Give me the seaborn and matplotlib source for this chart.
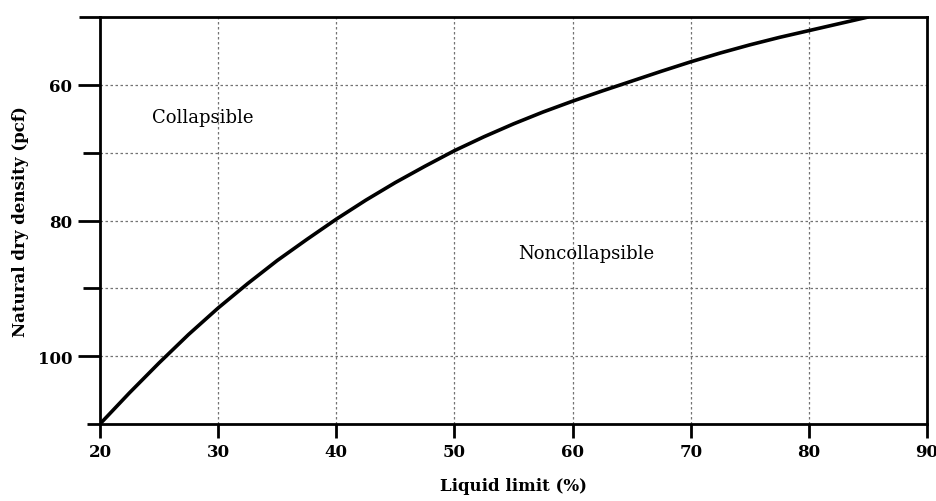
import matplotlib
matplotlib.use("Agg")
import matplotlib.pyplot as plt
import seaborn as sns
import pandas as pd
from matplotlib.ticker import FixedLocator

# Data
liquid_limit = [20, 22.5, 25, 27.5, 30, 32.5, 35, 37.5, 40, 42.5, 45, 47.5, 50,
                52.5, 55, 57.5, 60, 62.5, 65, 67.5, 70, 72.5, 75, 77.5, 80, 82.5, 85]
dry_density = [110, 105.4, 101.0, 96.8, 92.9, 89.3, 85.9, 82.8, 79.8, 77.0, 74.4, 72.0, 69.7,
               67.65, 65.75, 64.0, 62.4, 60.9, 59.45, 58.0, 56.6, 55.3, 54.1, 53.0, 52.0, 51.0, 50.0]

x_ticks = [20, 30, 40, 50, 60, 70, 80, 90]
y_major_ticks = [60, 80, 100]
y_minor_ticks = [70, 90]
region_labels = ["Collapsible", "Noncollapsible"]

df = pd.DataFrame({"Liquid limit (%)": liquid_limit,
                   "Natural dry density (pcf)": dry_density})

sns.set_style("white")
plt.rcParams["font.family"] = ["DejaVu Serif"]
plt.rcParams["text.color"] = "black"
plt.rcParams["axes.labelcolor"] = "black"
plt.rcParams["xtick.color"] = "black"
plt.rcParams["ytick.color"] = "black"

fig = plt.figure(figsize=(9.37, 5.02), dpi=100)
ax = fig.add_axes([0.1067, 0.1534, 0.8826, 0.8106])

sns.lineplot(data=df, x="Liquid limit (%)", y="Natural dry density (pcf)",
             ax=ax, color="black", linewidth=2.6, sort=False, estimator=None)
ax.lines[0].set_solid_joinstyle("round")

ax.set_xlim(20, 90)
ax.set_ylim(110, 50)

ax.xaxis.set_major_locator(FixedLocator(x_ticks))
ax.yaxis.set_major_locator(FixedLocator(y_major_ticks))
ax.yaxis.set_minor_locator(FixedLocator(y_minor_ticks))

# grid
for xv in x_ticks[1:-1]:
    ax.axvline(xv, color="0.45", linestyle=(0, (2, 2)), linewidth=0.9, zorder=0)
for yv in sorted(y_major_ticks + y_minor_ticks):
    ax.axhline(yv, color="0.45", linestyle=(0, (2, 2)), linewidth=0.9, zorder=0)

for side in ["left", "bottom", "right", "top"]:
    ax.spines[side].set_visible(True)
    ax.spines[side].set_color("black")
    ax.spines[side].set_linewidth(2.0)

# extended top and bottom spines to the left as in the print
ax.plot([-0.025, 0], [1, 1], transform=ax.transAxes, color="black",
        linewidth=2.0, clip_on=False, solid_capstyle="butt")
ax.plot([-0.016, 0], [0, 0], transform=ax.transAxes, color="black",
        linewidth=2.0, clip_on=False, solid_capstyle="butt")

ax.tick_params(axis="x", which="major", direction="out", length=10, width=2,
               labelsize=12, pad=4, bottom=True)
ax.tick_params(axis="y", which="major", direction="out", length=16, width=2,
               labelsize=12, pad=4, left=True)
ax.tick_params(axis="y", which="minor", direction="out", length=12, width=2,
               left=True)
for lbl in ax.get_xticklabels() + ax.get_yticklabels():
    lbl.set_fontweight("semibold")

ax.set_xlabel("Liquid limit (%)", fontsize=12, fontweight="bold", labelpad=12)
ax.set_ylabel("Natural dry density (pcf)", fontsize=12, fontweight="bold", labelpad=6)

ax.text(24.4, 64.7, region_labels[0], fontsize=13, va="center", ha="left")
ax.text(55.4, 84.8, region_labels[1], fontsize=13, va="center", ha="left")

fig.savefig("out.png", dpi=100)
